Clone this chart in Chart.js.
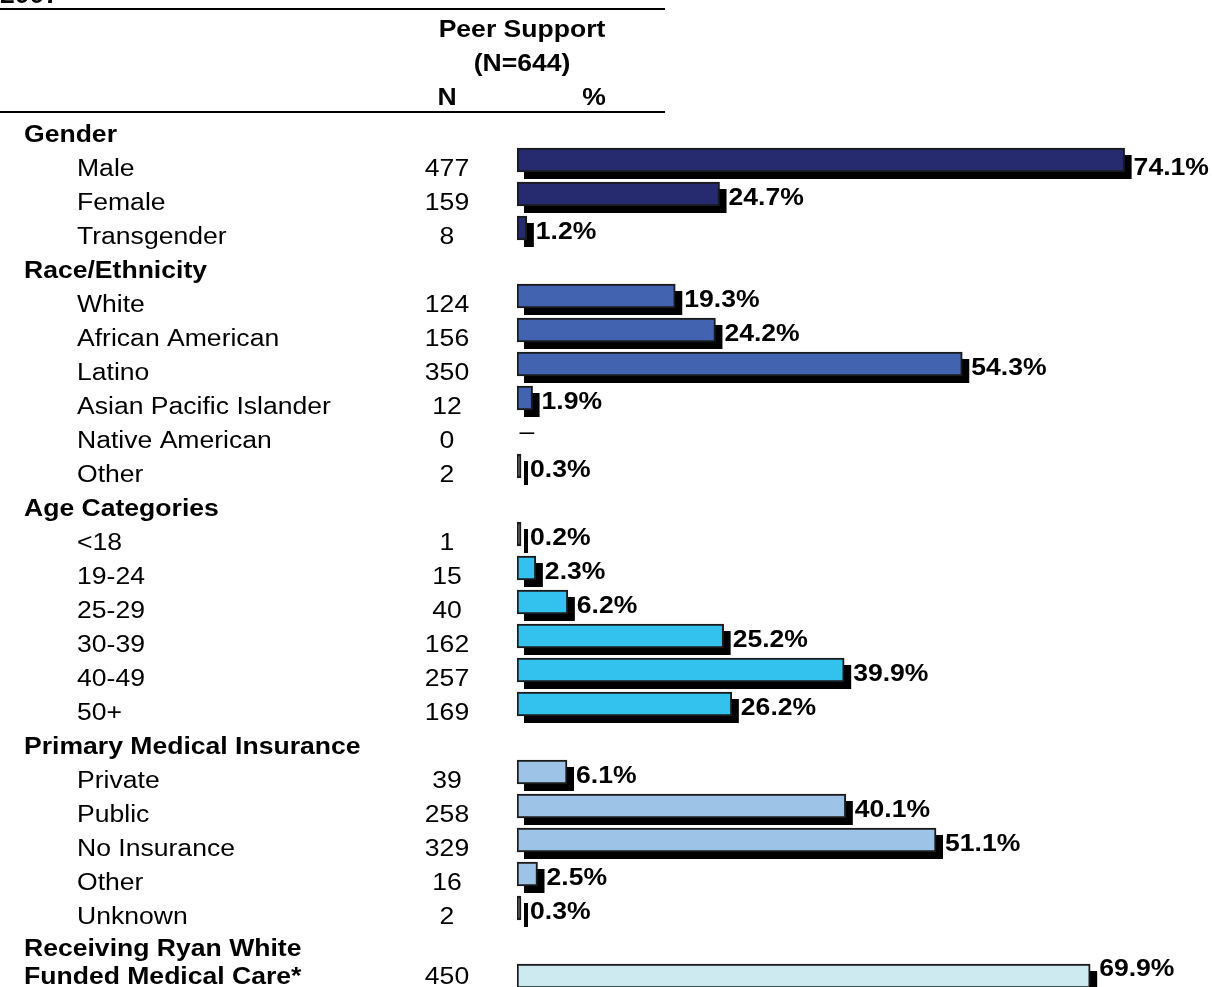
<!DOCTYPE html>
<html lang="en">
<head>
<meta charset="UTF-8" />
<title>Peer Support (N=644)</title>
<script src="https://cdn.jsdelivr.net/npm/chart.js"></script>
<style>
  html, body { margin: 0; padding: 0; background: #fff; overflow: hidden; }
  canvas { display: block; }
</style>
</head>
<body>
<canvas id="peerChart" width="1212" height="1000"></canvas>
<script>
// table rows, top to bottom (null = section header)
const categories = [
  "Gender", "Male", "Female", "Transgender",
  "Race/Ethnicity", "White", "African American", "Latino", "Asian Pacific Islander", "Native American", "Other",
  "Age Categories", "<18", "19-24", "25-29", "30-39", "40-49", "50+",
  "Primary Medical Insurance", "Private", "Public", "No Insurance", "Other", "Unknown",
  "Receiving Ryan White", "Funded Medical Care*"
];
const counts = [
  null, 477, 159, 8,
  null, 124, 156, 350, 12, 0, 2,
  null, 1, 15, 40, 162, 257, 169,
  null, 39, 258, 329, 16, 2,
  null, 450
];
const percents = [
  null, 74.1, 24.7, 1.2,
  null, 19.3, 24.2, 54.3, 1.9, 0, 0.3,
  null, 0.2, 2.3, 6.2, 25.2, 39.9, 26.2,
  null, 6.1, 40.1, 51.1, 2.5, 0.3,
  null, 69.9
];
const headerTitle = ["Peer Support", "(N=644)"];
const headerCols = ["N", "%"];

// look
const sectionColors = ["#262a6e", "#4263af", "#33c1ee", "#9dc3e6", "#cdeaf0"];
const FONT = "'Liberation Sans', Arial, sans-serif";
const SIZE = 23.5;
const STRETCH = 1.13;
const SHADOW_X = 7, SHADOW_Y = 7;

const rowSection = [];
let sec = -1;
counts.forEach((c, i) => {
  if (c === null) sec++;
  rowSection[i] = sec;
});
const lastRow = categories.length - 1;

function drawText(ctx, text, x, y, bold, align) {
  ctx.save();
  ctx.font = (bold ? "bold " : "") + SIZE + "px " + FONT;
  ctx.textAlign = align || "left";
  ctx.textBaseline = "alphabetic";
  ctx.fillStyle = "#000";
  ctx.translate(x, y);
  ctx.scale(STRETCH, 1);
  ctx.fillText(text, 0, 0);
  ctx.restore();
}

// table text + rules + bar shadows
const tablePlugin = {
  id: "table",
  beforeDatasetsDraw(chart) {
    const ctx = chart.ctx;
    const y = chart.scales.y;

    ctx.save();
    ctx.fillStyle = "#000";
    ctx.fillRect(0, 8, 665, 2);
    ctx.fillRect(0, 111, 665, 2);
    ctx.restore();

    drawText(ctx, "2007", 0, 3, true);
    drawText(ctx, headerTitle[0], 522, 36.5, true, "center");
    drawText(ctx, headerTitle[1], 522, 70.5, true, "center");
    drawText(ctx, headerCols[0], 447, 104.5, true, "center");
    drawText(ctx, headerCols[1], 594, 104.5, true, "center");

    categories.forEach((label, i) => {
      let base = y.getPixelForValue(i) + 16;
      if (i === lastRow - 1) base -= 2;
      if (i === lastRow) base -= 8;
      const bold = counts[i] === null || i === lastRow;
      drawText(ctx, label, bold ? 24 : 77, base, bold);
      if (counts[i] !== null) drawText(ctx, String(counts[i]), 447, base, false, "center");
    });

    const meta = chart.getDatasetMeta(0);
    ctx.save();
    ctx.fillStyle = "#000";
    meta.data.forEach((bar, i) => {
      if (!percents[i]) return;
      const p = bar.getProps(["x", "y", "base", "height"], true);
      ctx.fillRect(p.base + SHADOW_X, p.y - p.height / 2 + SHADOW_Y, p.x - p.base, p.height);
    });
    ctx.restore();
  },
  afterDatasetsDraw(chart) {
    const ctx = chart.ctx;
    const meta = chart.getDatasetMeta(0);
    meta.data.forEach((bar, i) => {
      const v = percents[i];
      if (v === null) return;
      const p = bar.getProps(["x", "y"], true);
      let base = p.y + 10.5;
      if (i === 1) base += 4;
      if (i === lastRow) base -= 11;
      if (v === 0) {
        drawText(ctx, "\u2013", chart.scales.x.getPixelForValue(0) + 10, base - 4, false, "center");
      } else {
        drawText(ctx, v.toFixed(1) + "%", p.x + SHADOW_X + 2, base, true);
      }
    });
  }
};

new Chart(document.getElementById("peerChart"), {
  type: "bar",
  data: {
    labels: categories,
    datasets: [{
      data: percents.map((v) => (v === 0 ? null : v)),
      // slivers under 1% read as solid outline in the original
      backgroundColor: (c) => (percents[c.dataIndex] < 1 ? "#1a1a1a" : sectionColors[rowSection[c.dataIndex]]),
      borderColor: "#1a1a1a",
      borderWidth: 2,
      borderSkipped: false,
      barThickness: 24,
      minBarLength: 4
    }]
  },
  options: {
    indexAxis: "y",
    responsive: false,
    animation: false,
    layout: { padding: { left: 517, right: 39, top: 109, bottom: 7 } },
    plugins: { legend: { display: false }, tooltip: { enabled: false } },
    scales: {
      x: { display: false, min: 0, max: 80 },
      y: { display: false }
    }
  },
  plugins: [tablePlugin]
});
</script>
</body>
</html>
